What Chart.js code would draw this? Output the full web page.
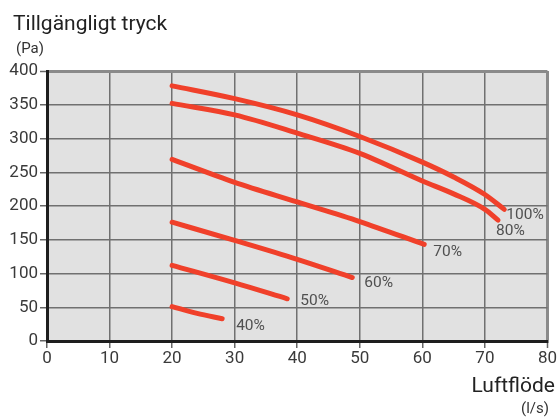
<!DOCTYPE html>
<html>
<head>
<meta charset="utf-8">
<script src="https://cdn.jsdelivr.net/npm/chart.js@4/dist/chart.umd.min.js"></script>
<style>
html,body{margin:0;padding:0;background:#fff;}
#wrap{position:relative;width:558px;height:417px;}
canvas{display:block;}
</style>
</head>
<body>
<div id="wrap"><canvas id="c" width="558" height="417"></canvas></div>
<script>
// ---- data ----
const seriesNames = ["100%", "80%", "70%", "60%", "50%", "40%"];
const flow100 = [20, 30, 40, 50, 60, 65, 70, 73.1];
const pres100 = [378, 359, 335, 303, 265, 243, 217, 195];
const flow80  = [20, 30, 40, 50, 60, 65, 70, 72.1];
const pres80  = [352, 335, 308, 278, 237, 218, 195, 179];
const flow70  = [20, 30, 40, 50, 60.3];
const pres70  = [269, 235, 206, 177, 143];
const flow60  = [20, 30, 40, 48.8];
const pres60  = [176, 149, 121, 94];
const flow50  = [20, 30, 38.4];
const pres50  = [112, 86, 62.5];
const flow40  = [20, 24, 28];
const pres40  = [51, 41, 33];
const xTicks = [0, 10, 20, 30, 40, 50, 60, 70, 80];
const yTicks = [0, 50, 100, 150, 200, 250, 300, 350, 400];
const yTitle = "Tillgängligt tryck";
const yUnit = "(Pa)";
const xTitle = "Luftflöde";
const xUnit = "(l/s)";

const flows = [flow100, flow80, flow70, flow60, flow50, flow40];
const press = [pres100, pres80, pres70, pres60, pres50, pres40];
// label offsets (px) from each curve's end point
const labelOffsets = [[2, 6], [-2, 11], [9, 8], [12, 6], [13, 2], [14, 7]];

const RED = '#f0402a';
const FONT = 'Roboto, "Open Sans", sans-serif';

const datasets = seriesNames.map((n, i) => ({
  label: n,
  data: flows[i].map((x, j) => ({x: x, y: press[i][j]})),
  showLine: true,
  borderColor: RED,
  borderWidth: 5,
  borderCapStyle: 'round',
  borderJoinStyle: 'round',
  pointRadius: 0,
  cubicInterpolationMode: 'monotone',
  fill: false
}));

const deco = {
  id: 'deco',
  beforeDraw(chart) {
    const {ctx, chartArea: a} = chart;
    ctx.save();
    ctx.fillStyle = '#e1e1e1';
    ctx.fillRect(a.left, a.top, a.right - a.left, a.bottom - a.top);
    ctx.restore();
  },
  afterDatasetsDraw(chart) {
    const ctx = chart.ctx;
    const xs = chart.scales.x, ys = chart.scales.y;
    ctx.save();
    // series labels
    ctx.font = '15.5px ' + FONT;
    ctx.fillStyle = '#505050';
    ctx.textAlign = 'left';
    ctx.textBaseline = 'middle';
    seriesNames.forEach((n, i) => {
      const f = flows[i], p = press[i];
      const px = xs.getPixelForValue(f[f.length - 1]);
      const py = ys.getPixelForValue(p[p.length - 1]);
      ctx.fillText(n, px + labelOffsets[i][0], py + labelOffsets[i][1]);
    });
    // axis titles
    ctx.fillStyle = '#222';
    ctx.textBaseline = 'alphabetic';
    ctx.font = '21px ' + FONT;
    ctx.fillText(yTitle, 13, 30);
    ctx.font = '15px ' + FONT;
    ctx.fillStyle = '#333';
    ctx.fillText(yUnit, 16, 53);
    ctx.textAlign = 'right';
    ctx.fillStyle = '#222';
    ctx.font = '21px ' + FONT;
    ctx.fillText(xTitle, 555, 392);
    ctx.font = '15px ' + FONT;
    ctx.fillStyle = '#333';
    ctx.fillText(xUnit, 549, 413);
    ctx.restore();
  }
};

new Chart(document.getElementById('c'), {
  type: 'scatter',
  data: {datasets},
  options: {
    responsive: false,
    animation: false,
    events: [],
    layout: {padding: {top: 71, right: 9, left: 0, bottom: 0}},
    plugins: {legend: {display: false}, tooltip: {enabled: false}, title: {display: false}},
    scales: {
      x: {
        type: 'linear', min: 0, max: 80,
        afterFit(s) { s.height = 76; },
        afterBuildTicks(s) { s.ticks = xTicks.map(v => ({value: v})); },
        ticks: {font: {family: FONT, size: 17}, color: '#3a3a3a', padding: 1, maxRotation: 0},
        grid: {
          color: ctx => ctx.tick && ctx.tick.value === 80 ? '#8a8a8a' : '#707070',
          lineWidth: ctx => ctx.tick && ctx.tick.value === 80 ? 3 : 1.5,
          tickLength: 7, tickColor: '#666', tickWidth: 1.5
        },
        border: {color: '#1e1e1e', width: 3}
      },
      y: {
        type: 'linear', min: 0, max: 400,
        afterFit(s) { s.width = 47; },
        afterBuildTicks(s) { s.ticks = yTicks.map(v => ({value: v})); },
        ticks: {font: {family: FONT, size: 17}, color: '#3a3a3a', padding: 2},
        grid: {
          color: ctx => ctx.tick && ctx.tick.value === 400 ? '#8a8a8a' : '#707070',
          lineWidth: ctx => ctx.tick && ctx.tick.value === 400 ? 3 : 1.5,
          tickLength: 7, tickColor: '#666', tickWidth: 1.5
        },
        border: {color: '#1e1e1e', width: 3}
      }
    }
  },
  plugins: [deco]
});
</script>
</body>
</html>
